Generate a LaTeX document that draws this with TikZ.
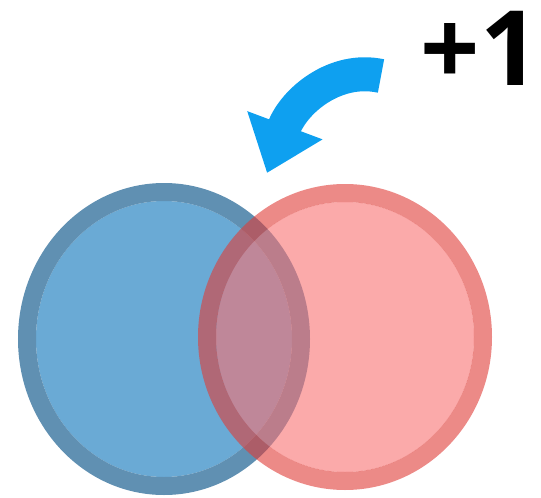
\documentclass[tikz,border=0pt]{standalone}
\usepackage{fontspec}
\setmainfont{Open Sans}
\usetikzlibrary{arrows.meta}
\definecolor{bluefill}{RGB}{106,170,213}
\definecolor{blueedge}{RGB}{96,144,178}
\definecolor{redfill}{RGB}{248,113,113}
\definecolor{rededge}{RGB}{223,60,55}
\definecolor{swingblue}{RGB}{14,160,240}
\tikzset{
  every picture/.style={x=0.5pt, y=-0.5pt},
  ring/.style={line width=9pt},
  tinted/.style={opacity=0.6},
  swing/.style={draw=swingblue, line width=17pt, -{Triangle[length=25.5pt,width=38.5pt]}},
  score/.style={font=\fontsize{52}{56}\selectfont\bfseries, inner sep=0pt},
}

\begin{document}
\begin{tikzpicture}
  \useasboundingbox (0,0) rectangle (541,498);
  \coordinate (blue) at (164,339);
  \coordinate (red) at (345,337);
  \coordinate (from) at (381,76);
  \coordinate (into) at (267,173);
  % left set: opaque
  \fill[bluefill] (blue) ellipse [x radius=128, y radius=138];
  \draw[ring, blueedge] (blue) ellipse [x radius=137, y radius=147];
  % right set: see-through, so the overlap mixes
  \fill[redfill, tinted] (red) ellipse [x radius=129, y radius=135];
  \draw[ring, rededge, tinted] (red) ellipse [x radius=138, y radius=144];
  \draw[swing] (from) .. controls (335,66) and (294,101) .. (into);
  \node[score] (plus) at (480,48) {+1};
\end{tikzpicture}
\end{document}
